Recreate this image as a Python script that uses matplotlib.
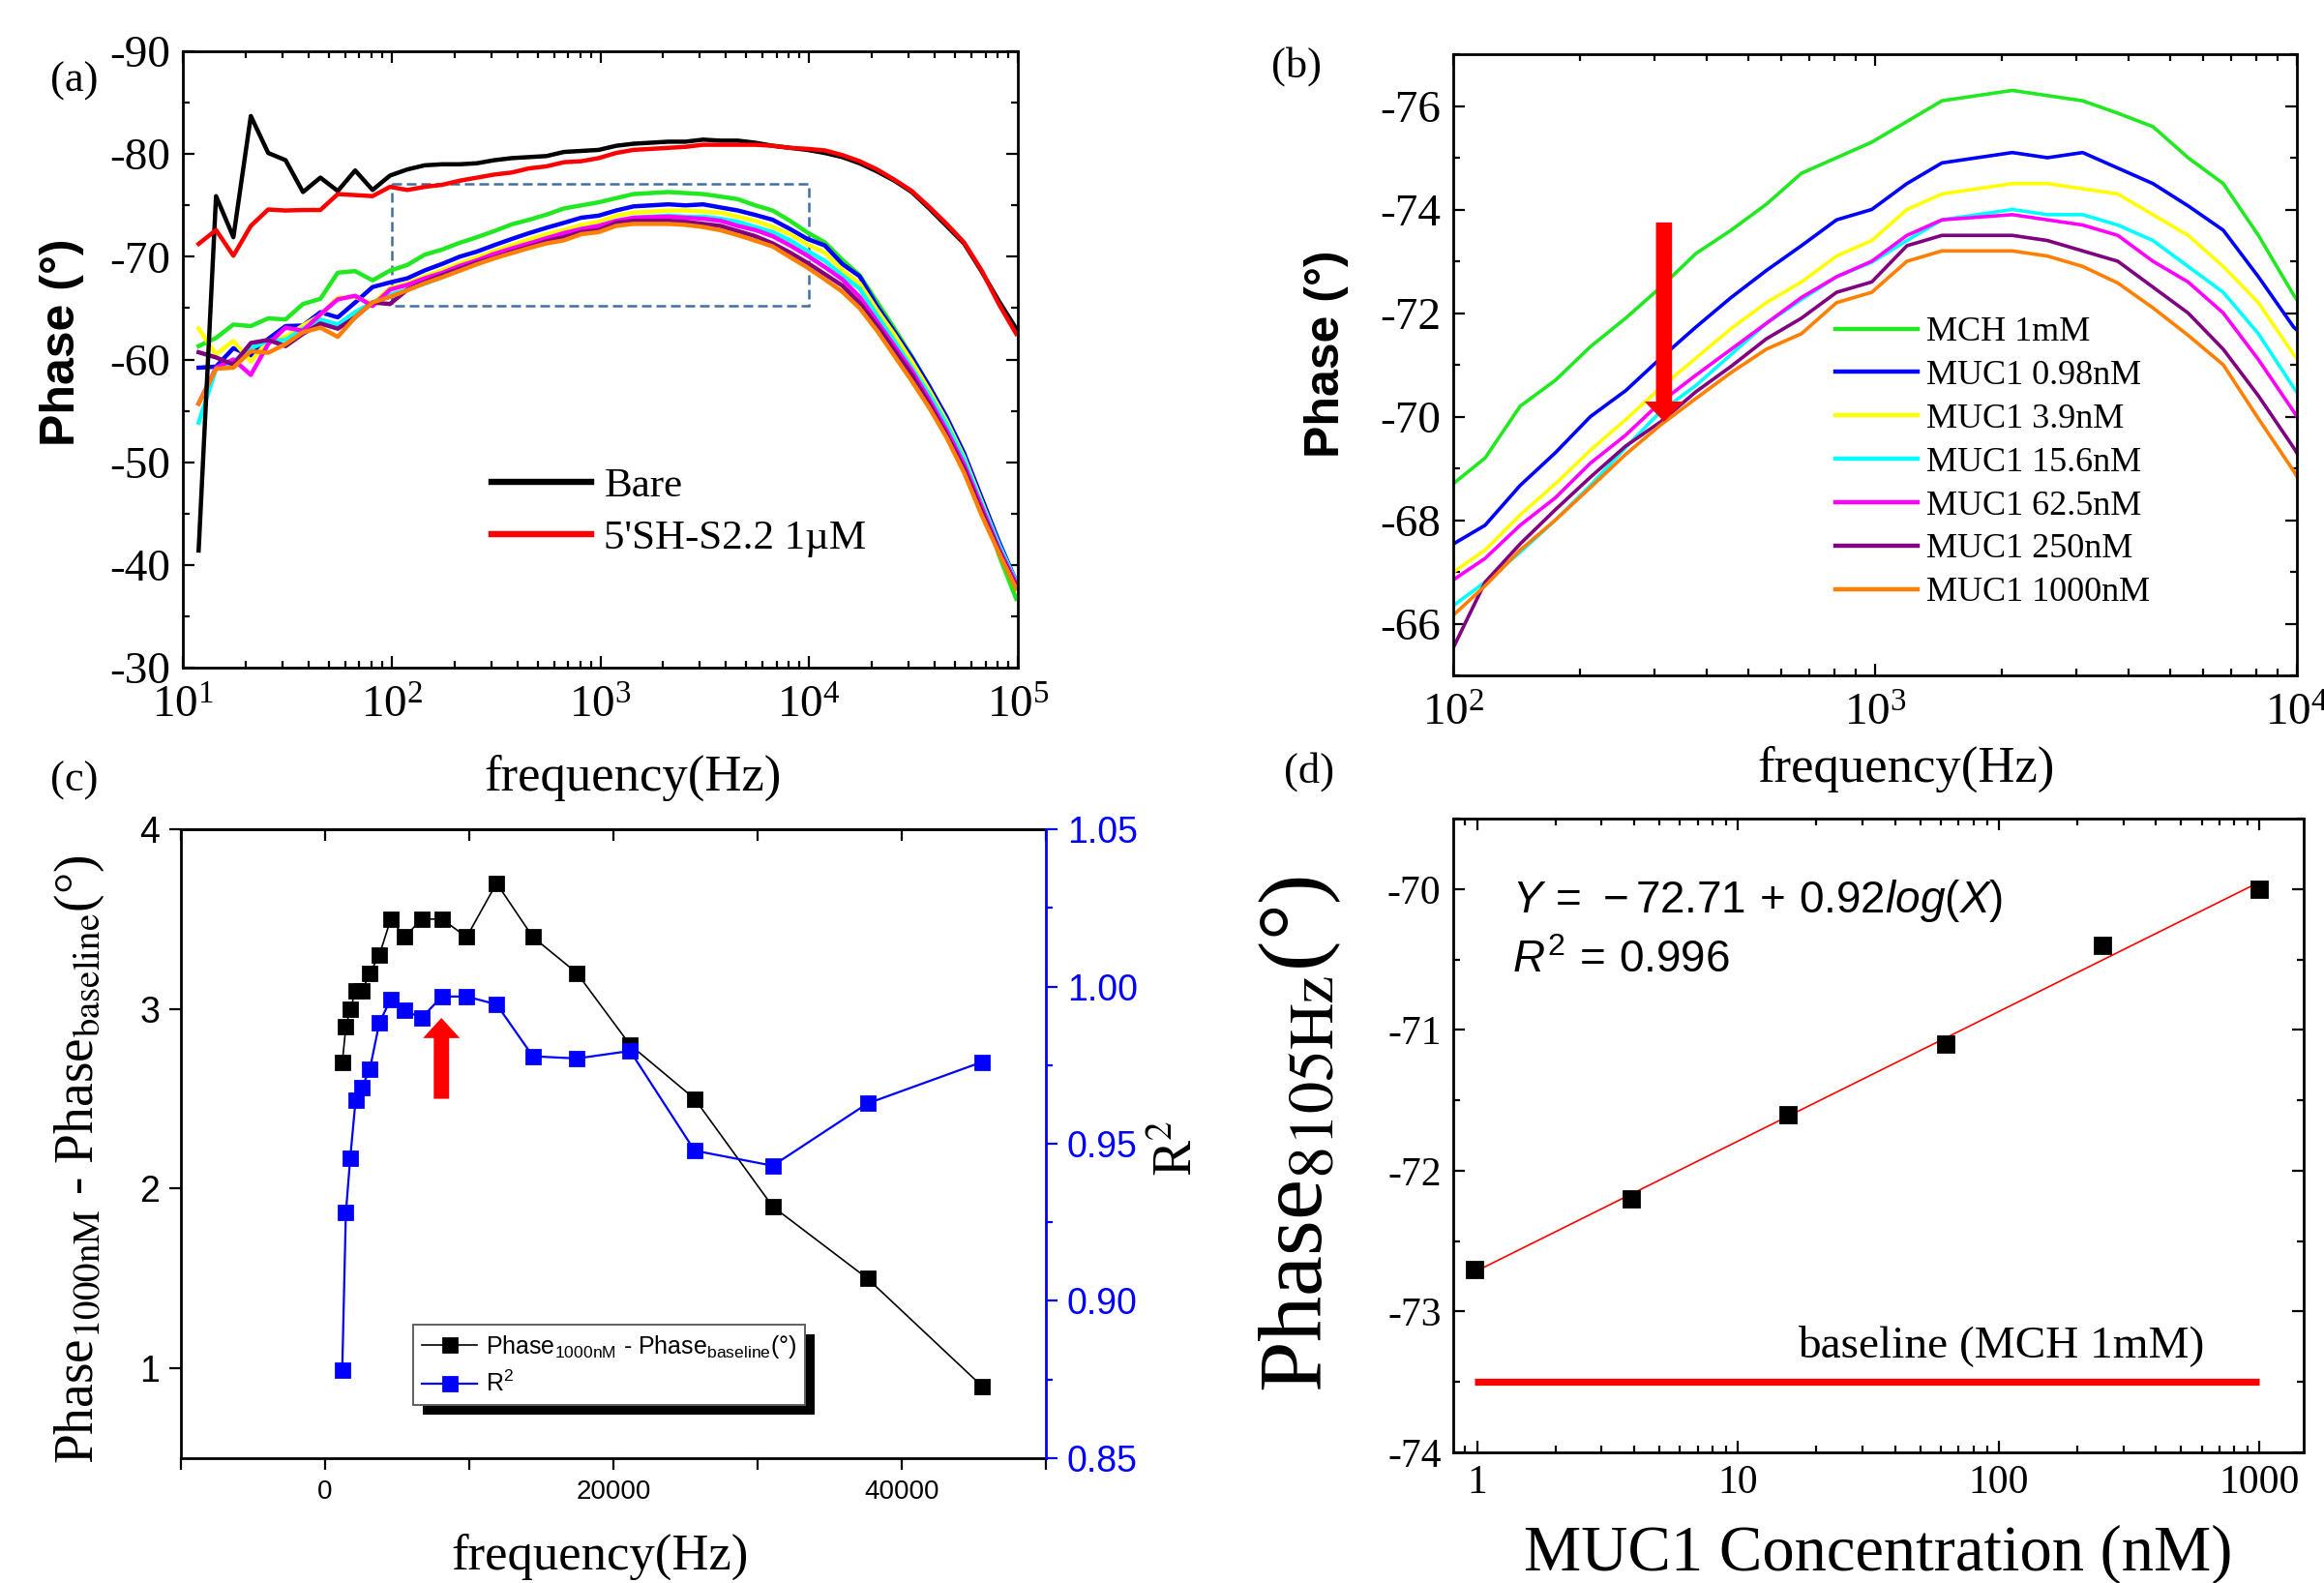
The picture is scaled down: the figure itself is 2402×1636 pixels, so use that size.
import numpy as np
import matplotlib
matplotlib.use('Agg')
import matplotlib.pyplot as plt
import matplotlib.ticker as mticker
from matplotlib.patches import Rectangle
from matplotlib.font_manager import FontProperties
from matplotlib.transforms import IdentityTransform

plt.rcParams['font.family'] = ['Liberation Serif', 'DejaVu Serif']
plt.rcParams['mathtext.fontset'] = 'stix'
plt.rcParams['mathtext.rm'] = 'Liberation Sans'
plt.rcParams['mathtext.it'] = 'Liberation Sans:italic'
plt.rcParams['mathtext.bf'] = 'Liberation Sans:bold'
plt.rcParams['axes.unicode_minus'] = False

# ---- data: phase spectra (Hz, degrees) ----
freq = [11.9, 14.42, 17.46, 21.16, 25.63, 31.05, 37.62, 45.58, 55.22, 66.9, 81.05, 98.2,
        119.0, 144.1, 174.6, 211.5, 256.3, 310.5, 376.2, 455.8, 552.2, 669.0, 810.5, 982.0,
        1190, 1441, 1746, 2115, 2563, 3105, 3762, 4558, 5522, 6690, 8105, 9820,
        11897, 14414, 17463, 21157, 25632, 31054, 37622, 45580, 55222, 66903, 81054, 98200]

bare = [-41.4, -75.9, -71.9, -83.7, -80.1, -79.4, -76.3, -77.7, -76.4, -78.4, -76.5, -77.9,
        -78.5, -78.9, -79.0, -79.0, -79.1, -79.4, -79.6, -79.7, -79.8, -80.2, -80.3, -80.4,
        -80.8, -81.0, -81.1, -81.2, -81.2, -81.4, -81.3, -81.3, -81.1, -80.8, -80.6, -80.4,
        -80.1, -79.7, -79.1, -78.3, -77.4, -76.3, -74.7, -73.0, -71.3, -68.6, -65.7, -63.0]
aptamer = [-71.25, -72.6, -70.1, -73.0, -74.6, -74.5, -74.55, -74.55, -76.1, -76.0, -75.9, -76.8,
           -76.5, -76.8, -77.0, -77.4, -77.7, -78.0, -78.2, -78.6, -78.8, -79.2, -79.3, -79.6,
           -80.1, -80.4, -80.5, -80.6, -80.7, -80.9, -80.9, -80.9, -80.9, -80.8, -80.6, -80.5,
           -80.35, -79.9, -79.3, -78.5, -77.5, -76.4, -74.85, -73.2, -71.4, -68.7, -65.4, -62.5]
mch = [-61.3, -62.1, -63.4, -63.25, -64.0, -63.9, -65.4, -65.9, -68.45, -68.6, -67.7, -68.65,
       -69.2, -70.2, -70.7, -71.35, -71.9, -72.5, -73.15, -73.6, -74.1, -74.7, -75.0, -75.3,
       -75.7, -76.1, -76.2, -76.3, -76.2, -76.1, -75.86, -75.6, -75.0, -74.5, -73.5, -72.35,
       -71.4, -69.7, -68.2, -65.6, -63.0, -60.3, -57.4, -54.2, -50.7, -46.2, -41.0, -36.7]
muc1_098 = [-59.2, -59.3, -61.1, -60.4, -62.0, -63.25, -63.3, -64.6, -64.1, -65.55, -67.05, -67.5,
            -67.9, -68.67, -69.3, -70.0, -70.5, -71.13, -71.73, -72.3, -72.82, -73.3, -73.8, -74.0,
            -74.5, -74.9, -75.0, -75.1, -75.0, -75.1, -74.8, -74.5, -74.07, -73.6, -72.7, -71.73,
            -71.1, -69.3, -68.1, -65.2, -62.7, -60.2, -57.4, -54.4, -50.9, -46.6, -42.3, -38.4]
muc1_39 = [-63.0, -60.5, -61.8, -59.8, -61.8, -62.2, -63.3, -64.3, -66.0, -66.1, -65.4, -66.95,
           -67.42, -68.1, -68.7, -69.35, -69.94, -70.56, -71.13, -71.7, -72.2, -72.6, -73.1, -73.4,
           -74.0, -74.3, -74.4, -74.5, -74.5, -74.4, -74.3, -73.9, -73.5, -72.9, -72.2, -71.2,
           -70.4, -68.7, -67.4, -64.8, -62.4, -59.8, -57.0, -54.0, -50.5, -46.2, -41.95, -38.2]
muc1_156 = [-53.85, -59.1, -59.8, -61.1, -61.8, -61.9, -63.0, -63.9, -63.4, -64.6, -65.55, -66.3,
            -66.8, -67.38, -68.0, -68.67, -69.4, -70.1, -70.6, -71.2, -71.8, -72.26, -72.7, -72.98,
            -73.4, -73.8, -73.9, -74.0, -73.9, -73.9, -73.7, -73.4, -72.9, -72.4, -71.6, -70.56,
            -69.6, -68.2, -66.9, -64.3, -61.8, -59.2, -56.6, -53.7, -50.3, -46.0, -42.0, -38.4]
muc1_625 = [-55.7, -59.2, -60.0, -58.5, -61.5, -63.1, -62.8, -64.4, -65.85, -66.2, -65.2, -66.8,
            -67.26, -67.9, -68.43, -69.1, -69.64, -70.28, -70.8, -71.3, -71.8, -72.3, -72.7, -73.0,
            -73.5, -73.8, -73.85, -73.9, -73.8, -73.7, -73.5, -73.0, -72.6, -72.0, -71.1, -70.1,
            -69.0, -67.8, -66.1, -63.7, -61.3, -58.9, -56.1, -53.1, -49.8, -45.7, -41.6, -38.2]
muc1_250 = [-60.7, -60.2, -59.5, -61.6, -61.9, -61.3, -62.5, -63.5, -63.0, -64.1, -65.55, -65.4,
            -66.8, -67.54, -68.2, -68.83, -69.43, -69.9, -70.48, -70.97, -71.5, -71.9, -72.4, -72.6,
            -73.3, -73.5, -73.5, -73.5, -73.4, -73.2, -73.0, -72.5, -72.0, -71.3, -70.4, -69.4,
            -68.3, -67.2, -65.5, -63.3, -60.9, -58.5, -55.7, -52.7, -49.4, -45.3, -41.4, -37.9]
muc1_1000 = [-55.7, -59.1, -59.2, -60.8, -60.65, -61.5, -62.65, -63.1, -62.2, -64.1, -65.55, -66.1,
             -66.73, -67.42, -68.0, -68.63, -69.27, -69.84, -70.35, -70.85, -71.3, -71.6, -72.2, -72.4,
             -73.0, -73.2, -73.2, -73.2, -73.1, -72.9, -72.58, -72.1, -71.57, -71.0, -69.96, -68.95,
             -67.8, -66.6, -65.0, -62.8, -60.35, -57.9, -55.3, -52.4, -49.0, -44.9, -41.2, -37.7]

series_labels = ['MCH 1mM', 'MUC1 0.98nM', 'MUC1 3.9nM', 'MUC1 15.6nM',
                 'MUC1 62.5nM', 'MUC1 250nM', 'MUC1 1000nM']
series_colors = ['#22e822', '#0000ff', '#ffff00', '#00ffff', '#ff00ff', '#800080', '#ff8000']
series_values = [mch, muc1_098, muc1_39, muc1_156, muc1_625, muc1_250, muc1_1000]

# ---- data: panel (c) ----
freq_c = [1190, 1441, 1746, 2115, 2563, 3105, 3762, 4558, 5522, 6690,
          8105, 9820, 11897, 14414, 17463, 21157, 25632, 31054, 37622, 45580]
dphase = [2.7, 2.9, 3.0, 3.1, 3.1, 3.2, 3.3, 3.5, 3.4, 3.5,
          3.5, 3.4, 3.7, 3.4, 3.2, 2.8, 2.5, 1.9, 1.5, 0.9]
r2 = [0.878, 0.928, 0.9455, 0.9638, 0.968, 0.9737, 0.9884, 0.996, 0.9924, 0.990,
      0.9968, 0.9968, 0.9943, 0.9778, 0.9771, 0.9795, 0.9478, 0.943, 0.9628, 0.976]

# ---- data: panel (d) ----
conc = [0.98, 3.9, 15.6, 62.5, 250, 1000]
phase_8105 = [-72.7, -72.2, -71.6, -71.1, -70.4, -70.0]
fit_a, fit_b = -72.71, 0.92
baseline = -73.5

W, H = 2402, 1636
fig = plt.figure(figsize=(W / 200, H / 200), dpi=200)


def rect(l, t, r, b):
    return [l / W, 1 - b / H, (r - l) / W, (b - t) / H]


def fx(x):
    return x / W


def fy(y):
    return 1 - y / H


def style_ticks(ax, size, pad=4.5, direction='in', mirror=True):
    ax.tick_params(which='both', direction=direction, top=mirror, right=mirror,
                   width=0.8, labelsize=size, pad=pad)
    ax.tick_params(which='major', length=4.3)
    ax.tick_params(which='minor', length=2.4)
    for s in ax.spines.values():
        s.set_linewidth(1.0)


ax_a = fig.add_axes(rect(189, 53, 1052, 690))
ax_b = fig.add_axes(rect(1502, 56, 2374, 698))
ax_c = fig.add_axes(rect(187, 857, 1081, 1507))
ax_d = fig.add_axes(rect(1502, 846, 2381, 1501))

# ---------------- (a) ----------------
for vals, col in zip(series_values, series_colors):
    ax_a.plot(freq, vals, color=col, lw=1.6)
la, = ax_a.plot(freq, bare, color='black', lw=1.6, label='Bare')
lb, = ax_a.plot(freq, aptamer, color='red', lw=1.6, label="5'SH-S2.2 1\u00b5M")
ax_a.add_patch(Rectangle((100, -77.1), 9900, 11.9, fill=False, ls=(0, (4, 2)),
                         ec='#41709e', lw=0.9))
ax_a.set_xscale('log')
ax_a.set_xlim(10, 1e5)
ax_a.set_ylim(-30, -90)
ax_a.yaxis.set_major_locator(mticker.MultipleLocator(10))
ax_a.yaxis.set_minor_locator(mticker.MultipleLocator(5))
ax_a.xaxis.set_minor_formatter(mticker.NullFormatter())
style_ticks(ax_a, 17)
ax_a.tick_params(axis='x', pad=7)
leg = ax_a.legend(handles=[la, lb], loc='upper left', bbox_to_anchor=(fx(508), fy(483)),
                  bbox_transform=fig.transFigure, frameon=False, fontsize=15.5,
                  handlelength=2.4, handletextpad=0.3, labelspacing=0.35,
                  borderpad=0, borderaxespad=0)
for l in leg.get_lines():
    l.set_linewidth(2.3)

# ---------------- (b) ----------------
lines_b = []
for vals, col, lab in zip(series_values, series_colors, series_labels):
    l, = ax_b.plot(freq, vals, color=col, lw=1.3, label=lab)
    lines_b.append(l)
ax_b.set_xscale('log')
ax_b.set_xlim(100, 1e4)
ax_b.set_ylim(-65, -77)
ax_b.yaxis.set_major_locator(mticker.MultipleLocator(2))
ax_b.yaxis.set_minor_locator(mticker.MultipleLocator(1))
ax_b.xaxis.set_minor_formatter(mticker.NullFormatter())
style_ticks(ax_b, 17)
ax_b.tick_params(axis='x', pad=7)
ax_b.annotate('', xy=(316, -69.9), xytext=(316, -73.75),
              arrowprops=dict(facecolor='red', edgecolor='none', width=6,
                              headwidth=14.5, headlength=7.5, shrink=0))
leg_b = ax_b.legend(handles=lines_b, loc='upper left', bbox_to_anchor=(fx(1897), fy(327)),
                    bbox_transform=fig.transFigure, frameon=False, fontsize=13,
                    handlelength=2.35, handletextpad=0.25, labelspacing=0.32,
                    borderpad=0, borderaxespad=0)
for l in leg_b.get_lines():
    l.set_linewidth(1.6)

# ---------------- (c) ----------------
lc1, = ax_c.plot(freq_c, dphase, '-s', color='black', lw=0.6, ms=4.8,
                 label=r'Phase$_{\mathrm{1000nM}}$ - Phase$_{\mathrm{baseline}}$(°)')
ax_c.set_xlim(-10000, 50000)
ax_c.set_ylim(0.5, 4)
ax_c.xaxis.set_major_locator(mticker.MultipleLocator(20000))
ax_c.xaxis.set_minor_locator(mticker.MultipleLocator(10000))
ax_c.yaxis.set_major_locator(mticker.MultipleLocator(1))
ax_c.tick_params(which='both', direction='out', width=0.8, length=4.3,
                 labelfontfamily='Liberation Sans')
ax_c.tick_params(axis='x', labelsize=10)
ax_c.tick_params(axis='y', labelsize=13.5)
ax_c.spines['right'].set_visible(False)
for s in ax_c.spines.values():
    s.set_linewidth(1.0)
sec = ax_c.secondary_xaxis('top')
sec.xaxis.set_major_locator(mticker.MultipleLocator(20000))
sec.xaxis.set_minor_locator(mticker.MultipleLocator(10000))
sec.tick_params(which='both', direction='in', length=4.3, width=0.8, labeltop=False)
sec.spines['top'].set_linewidth(1.0)
ax_c.annotate('', xy=(8070, 2.95), xytext=(8070, 2.5),
              arrowprops=dict(facecolor='red', edgecolor='none', width=5.7,
                              headwidth=13.7, headlength=7.5, shrink=0))

ax_c2 = ax_c.twinx()
lc2, = ax_c2.plot(freq_c, r2, '-s', color='#0000ff', lw=0.8, ms=4.8, label=r'R$^{\mathrm{2}}$')
ax_c2.set_ylim(0.85, 1.05)
ax_c2.yaxis.set_major_locator(mticker.MultipleLocator(0.05))
ax_c2.yaxis.set_minor_locator(mticker.MultipleLocator(0.025))
ax_c2.yaxis.set_major_formatter(mticker.FormatStrFormatter('%.2f'))
ax_c2.tick_params(axis='y', which='both', direction='out', width=0.8, colors='#0000ff',
                  labelsize=13.5, labelfontfamily='Liberation Sans')
ax_c2.tick_params(axis='y', which='major', length=4.3)
ax_c2.tick_params(axis='y', which='minor', length=2.6)
ax_c2.spines['right'].set_color('#0000ff')
ax_c2.spines['right'].set_linewidth(1.0)
ax_c2.spines['left'].set_visible(False)
ax_c2.spines['top'].set_visible(False)
ax_c2.spines['bottom'].set_visible(False)

leg_c = ax_c2.legend(handles=[lc1, lc2], loc='upper left', bbox_to_anchor=(fx(427), fy(1369)),
                     bbox_transform=fig.transFigure,
                     prop=FontProperties(family='Liberation Sans', size=9, math_fontfamily='custom'),
                     frameon=True, fancybox=False, framealpha=1, edgecolor='#606060',
                     borderaxespad=0, handlelength=2.3, numpoints=1, borderpad=0.35,
                     labelspacing=0.45, handletextpad=0.35)
leg_c.get_frame().set_linewidth(0.7)
leg_c.set_zorder(6)

# ---------------- (d) ----------------
ax_d.set_xscale('log')
fit_x = np.array([conc[0], conc[-1]])
ax_d.plot(fit_x, fit_a + fit_b * np.log10(fit_x), color='red', lw=0.6)
ax_d.plot([conc[0], conc[-1]], [baseline, baseline], color='red', lw=2.6, solid_capstyle='butt')
ax_d.plot(conc, phase_8105, 's', color='black', ms=5.8)
ax_d.set_xlim(0.81, 1475)
ax_d.set_ylim(-74, -69.5)
ax_d.yaxis.set_major_locator(mticker.MultipleLocator(1))
ax_d.yaxis.set_minor_locator(mticker.MultipleLocator(0.5))
ax_d.xaxis.set_major_locator(mticker.FixedLocator([1, 10, 100, 1000]))
ax_d.xaxis.set_major_formatter(mticker.FuncFormatter(lambda v, p: '%g' % v))
ax_d.xaxis.set_minor_formatter(mticker.NullFormatter())
style_ticks(ax_d, 15)
ax_d.text(0.069, 0.870, r'$Y\,=\,-72.71\,+\,0.92log(X)$', transform=ax_d.transAxes,
          fontsize=16.5, va='center', ha='left', math_fontfamily='custom')
ax_d.text(0.069, 0.776, r'$R^2\,=\,0.996$', transform=ax_d.transAxes,
          fontsize=16.5, va='center', ha='left', math_fontfamily='custom')
ax_d.text(0.405, 0.169, 'baseline (MCH 1mM)', transform=ax_d.transAxes,
          fontsize=17, va='center', ha='left')

# ---------------- labels ----------------
for lab, (x, y) in zip(['(a)', '(b)', '(c)', '(d)'],
                       [(77, 84), (1340, 69), (77, 807), (1353, 798)]):
    fig.text(fx(x), fy(y), lab, fontsize=16, ha='center', va='center')

fig.text(fx(64), fy(354), 'Phase (°)', rotation=90, fontsize=18, fontweight='bold',
         family='Liberation Sans', ha='center', va='center')
fig.text(fx(654), fy(804), 'frequency(Hz)', fontsize=19, ha='center', va='center')
fig.text(fx(1371), fy(366), 'Phase (°)', rotation=90, fontsize=18, fontweight='bold',
         family='Liberation Sans', ha='center', va='center')
fig.text(fx(1970), fy(795), 'frequency(Hz)', fontsize=19, ha='center', va='center')
fig.text(fx(82), fy(1198), r'Phase$_{\mathrm{1000nM}}$ - Phase$_{\mathrm{baseline}}$(°)',
         rotation=90, fontsize=20, ha='center', va='center')
fig.text(fx(1218), fy(1187), r'R$^{\mathrm{2}}$', rotation=90, fontsize=20,
         ha='center', va='center')
fig.text(fx(620), fy(1609), 'frequency(Hz)', fontsize=19, ha='center', va='center')
fig.text(fx(1344), fy(1172), r'Phase$_{\mathrm{8105Hz}}$(°)', rotation=90, fontsize=34,
         ha='center', va='center')
fig.text(fx(1941), fy(1606), 'MUC1 Concentration (nM)', fontsize=24, ha='center', va='center')

# legend shadow for (c)
fig.canvas.draw()
bb = leg_c.get_window_extent()
shadow = Rectangle((bb.x0 + 10, bb.y0 - 10), bb.width, bb.height, transform=IdentityTransform(),
                   facecolor='black', edgecolor='none', zorder=5.5, clip_on=False)
ax_c2.add_artist(shadow)

fig.savefig('out.png', dpi=200)
